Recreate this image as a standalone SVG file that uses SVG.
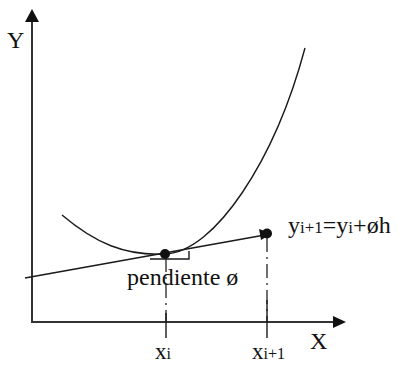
<svg xmlns="http://www.w3.org/2000/svg" width="404" height="365" viewBox="0 0 404 365">
<style>
.ln{stroke:#1a1a1a;fill:none;stroke-width:1.4}
.ax{stroke:#333;fill:none;stroke-width:2}
.dd{stroke:#222;fill:none;stroke-width:1.3;stroke-dasharray:14 5 2 5}
text{font-family:'Liberation Serif','DejaVu Serif','Times New Roman',serif;fill:#111}
</style>
<rect width="404" height="365" fill="#fff"/>
<g id="axes">
<line class="ax" x1="32" y1="20" x2="32" y2="322"/>
<line class="ax" x1="31" y1="322" x2="335" y2="322"/>
<polygon points="32,9 25,22 39,22" fill="#111"/>
<polygon points="346,322 333,316 333,328" fill="#111"/>
<text x="7" y="48" font-size="24">Y</text>
<text x="310" y="349" font-size="24">X</text>
</g>
<g id="curve">
<path class="ln" d="M62,215 C95,243 125,256 165,254 C215,252 275,160 305,48"/>
</g>
<g id="connectors">
<line class="ln" x1="25" y1="278" x2="262" y2="235.5"/>
<polygon points="272,233.5 259,229 261,240" fill="#111"/>
<polyline class="ln" points="150,259 189,259 189,251"/>
<line class="dd" x1="166" y1="258" x2="166" y2="322"/>
<line class="ln" x1="166" y1="313" x2="166" y2="338"/>
<line class="dd" x1="267" y1="238" x2="267" y2="322"/>
<line class="ln" x1="267" y1="300" x2="267" y2="338"/>
</g>
<g id="point-i">
<circle cx="165" cy="254" r="5" fill="#111"/>
<text x="127" y="285" font-size="24">pendiente ø</text>
<text x="155" y="359" font-size="23">x<tspan font-size="16">i</tspan></text>
</g>
<g id="point-i1">
<circle cx="267" cy="233.5" r="5" fill="#111"/>
<text x="252" y="359" font-size="23">x<tspan font-size="16">i+1</tspan></text>
<text x="288" y="233" font-size="24">y<tspan font-size="17">i+1</tspan>=y<tspan font-size="17">i</tspan>+øh</text>
</g>
</svg>
